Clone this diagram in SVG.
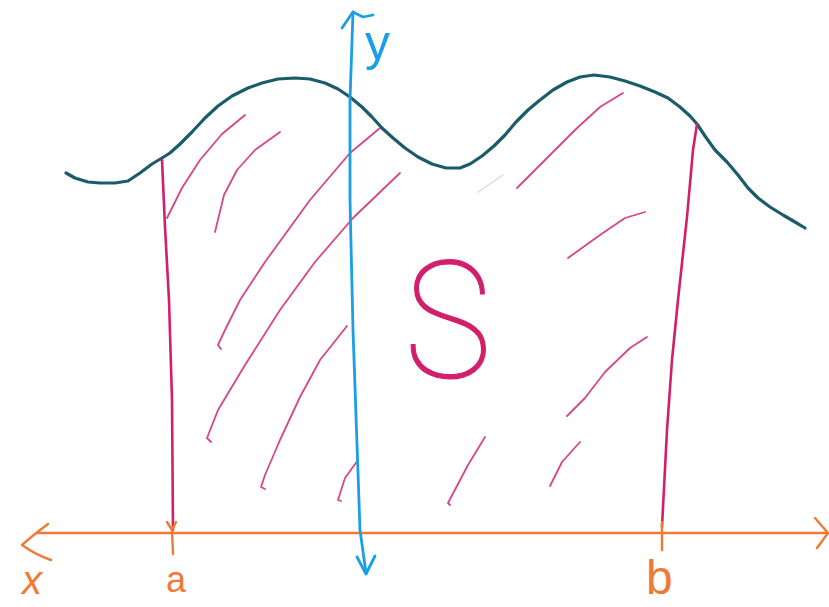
<svg xmlns="http://www.w3.org/2000/svg" width="829" height="607" viewBox="0 0 829 607">
<style>
.curve{fill:none;stroke:#1b5c6a;stroke-width:3.2;stroke-linejoin:round;stroke-linecap:round}
.bound{fill:none;stroke:#d21f6c;stroke-width:2.6;stroke-linejoin:round;stroke-linecap:round}
.hatch{fill:none;stroke:#d6468a;stroke-width:1.8;stroke-linejoin:round;stroke-linecap:round}
.xaxis{fill:none;stroke:#f07a35;stroke-width:2.4;stroke-linejoin:round;stroke-linecap:round}
.yaxis{fill:none;stroke:#1a9fe6;stroke-width:2.8;stroke-linejoin:round;stroke-linecap:round}
.lbl{font-family:"Liberation Sans","DejaVu Sans",sans-serif}
</style>
<rect width="829" height="607" fill="#ffffff"/>
<g id="region-S">
<polyline class="hatch" points="245,115 222,134 200,160 182,188 167,218"/>
<polyline class="hatch" points="280,132 255,150 237,170 224,195 215,232"/>
<polyline class="hatch" points="380,128 350,153 310,200 265,262 240,300 225,330 218,345 221,349"/>
<polyline class="hatch" points="400,173 353,218 315,262 280,310 245,365 218,410 207,438 211,442"/>
<polyline class="hatch" points="347,326 320,360 300,397 280,440 265,475 261,487 265,489"/>
<polyline class="hatch" points="358,460 345,478 338,500 341,501"/>
<polyline class="hatch" points="623,93 600,107 575,130 550,155 518,187 517,188"/>
<polyline class="hatch" points="645,212 625,218 600,235 568,258"/>
<polyline class="hatch" points="647,337 630,348 605,372 585,398 567,416"/>
<polyline class="hatch" points="485,437 468,465 448,503 450,505"/>
<polyline class="hatch" points="580,442 562,462 550,486"/>
<polyline class="hatch" points="478,192 503,175" style="stroke:#e9d6dc;stroke-width:1.5"/>
<text class="lbl" x="0" y="0" font-size="164" font-weight="100" fill="#d21f6c" stroke="#d21f6c" stroke-width="1.2" transform="translate(448,377) scale(0.9,1)" text-anchor="middle" style="font-family:Roboto,Lato,'DejaVu Sans',sans-serif">S</text>
</g>
<g id="curve">
<polyline class="curve" points="66,173 75,178 88,182 100,183 115,183 128,181 140,173 152,164 162,158 170,153 180,144 192,132 205,118 218,106 232,96 248,88 262,83 278,79 295,78 310,79 325,83 338,89 350,97 362,107 372,117 382,128 393,138 405,148 418,157 432,164 446,168 460,168 470,164 482,156 494,146 505,135 516,122 528,110 540,100 553,90 567,82 580,77 594,75 610,77 625,81 640,86 655,92 668,98 680,107 690,116 697,124 705,136 715,150 727,162 738,175 748,188 758,198 770,207 783,215 795,222 805,228"/>
</g>
<g id="line-a">
<polyline class="bound" points="162,160 165,227 169,300 172,400 173,530"/>
</g>
<g id="line-b">
<polyline class="bound" points="697,124 693,150 687,217 678,300 672,360 667,430 662,527"/>
</g>
<g id="x-axis">
<line class="xaxis" x1="37" y1="533" x2="827" y2="533"/>
<path class="xaxis" d="M48,524 Q32,536 22,545 Q36,555 51,560"/>
<path class="xaxis" d="M815,518 L828,533 L817,548"/>
<path class="xaxis" d="M167,522 L172,530 L176,522 M172,530 L173,554"/>
<path class="xaxis" d="M662,522 L662,550"/>
<text class="lbl" x="22" y="594" font-size="40" font-style="italic" fill="#f07a35">x</text>
<text class="lbl" x="166" y="592" font-size="36" fill="#f07a35">a</text>
<text class="lbl" x="646" y="594" font-size="48" fill="#f07a35">b</text>
</g>
<g id="y-axis">
<polyline class="yaxis" points="353,12 350,100 350,200 353,330 360,530 366,573"/>
<path class="yaxis" d="M342,28 L353,12 L363,17 L373,15"/>
<path class="yaxis" d="M357,557 L366,574 L375,556"/>
<text class="lbl" x="365" y="60" font-size="50" fill="#1a9fe6">y</text>
</g>
</svg>
